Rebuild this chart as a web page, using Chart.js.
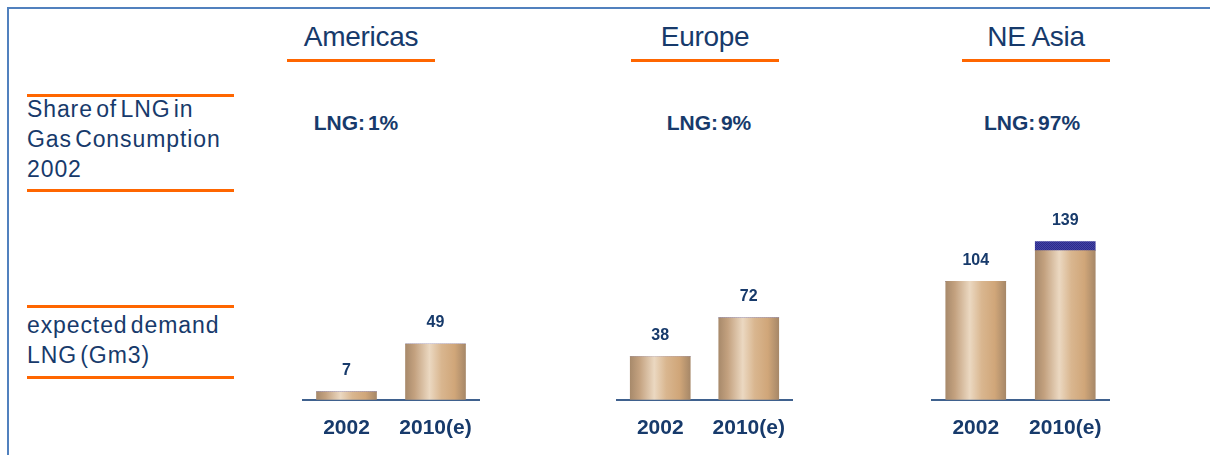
<!DOCTYPE html>
<html>
<head>
<meta charset="utf-8">
<script src="https://cdn.jsdelivr.net/npm/chart.js@4.4.1/dist/chart.umd.min.js"></script>
<style>
  html, body { margin: 0; padding: 0; background: #fff; }
  body { width: 1210px; height: 455px; position: relative; overflow: hidden;
         font-family: 'Liberation Sans', Arial, sans-serif; color: #173a6b; }
  .frame-top { position: absolute; left: 7px; top: 7px; width: 1203px; height: 2px; background: #5181be; }
  .frame-left { position: absolute; left: 7px; top: 7px; width: 2px; height: 448px; background: #5181be; }
  .rule { position: absolute; height: 3px; background: #ff6600; }
  .region { position: absolute; top: 21px; font-size: 28px; line-height: 32px; text-align: center; width: 200px; letter-spacing: -0.3px; }
  .share { position: absolute; top: 111px; font-size: 21px; font-weight: bold; line-height: 24px; text-align: center; width: 200px; word-spacing: -3px; }
  .side { position: absolute; left: 27px; font-size: 23px; line-height: 30px; white-space: nowrap; letter-spacing: 0.9px; word-spacing: -4px; }
  .chart-box { position: absolute; top: 202px; height: 255px; }
</style>
</head>
<body>
<div class="frame-top"></div>
<div class="frame-left"></div>

<div class="rule" style="left:27px;top:94px;width:207px"></div>
<div class="side" style="top:94px">Share of LNG in<br>Gas Consumption<br>2002</div>
<div class="rule" style="left:27px;top:189px;width:207px"></div>

<div class="rule" style="left:27px;top:305px;width:207px"></div>
<div class="side" style="top:310px">expected demand<br>LNG (Gm3)</div>
<div class="rule" style="left:27px;top:376px;width:207px"></div>

<div id="headers"></div>
<div id="charts"></div>

<script>
// data
const regions = ['Americas', 'Europe', 'NE Asia'];
const years = ['2002', '2010(e)'];
const lngShare = ['1%', '9%', '97%'];
const demand2002 = [7, 38, 104];
const demand2010 = [49, 72, 139];
// dark blue top slice of the NE Asia 2010 bar
const topSlice2010 = [0, 0, 8];
const yMax = 150;

// layout of each region block (left edge of plot, plot width, header centre)
const plotLeft = [302, 616, 931];
const plotWidth = [178, 177, 179];
const headerCenter = [361, 705, 1036];
const shareCenter = [356, 709, 1032];

const navy = '#173a6b';
const fontFamily = "'Liberation Sans', Arial, sans-serif";

// headers + shares
const headers = document.getElementById('headers');
regions.forEach((name, i) => {
  const h = document.createElement('div');
  h.className = 'region';
  h.style.left = (headerCenter[i] - 100) + 'px';
  h.textContent = name;
  headers.appendChild(h);

  const r = document.createElement('div');
  r.className = 'rule';
  r.style.left = (headerCenter[i] - 74) + 'px';
  r.style.top = '59px';
  r.style.width = '148px';
  headers.appendChild(r);

  const s = document.createElement('div');
  s.className = 'share';
  s.style.left = (shareCenter[i] - 100) + 'px';
  s.textContent = 'LNG: ' + lngShare[i];
  headers.appendChild(s);
});

/**
 * Tan cylinder-like gradient across a bar
 */
function tanGradient(context) {
  const chart = context.chart;
  if (!chart.chartArea) return '#d2ab80';
  const cx = chart.scales.x.getPixelForValue(context.dataIndex);
  const g = chart.ctx.createLinearGradient(cx - 30, 0, cx + 30, 0);
  g.addColorStop(0, '#a88a6b');
  g.addColorStop(0.15, '#c3a17f');
  g.addColorStop(0.4, '#ebd8c1');
  g.addColorStop(0.6, '#d9b68f');
  g.addColorStop(0.82, '#d0a679');
  g.addColorStop(1, '#a78868');
  return g;
}

/**
 * Small dotted pattern for the blue slice
 */
function bluePattern() {
  const c = document.createElement('canvas');
  c.width = 2; c.height = 2;
  const p = c.getContext('2d');
  p.fillStyle = '#2c2c8a';
  p.fillRect(0, 0, 2, 2);
  p.fillStyle = '#4444a6';
  p.fillRect(0, 0, 1, 1);
  p.fillRect(1, 1, 1, 1);
  return p.createPattern(c, 'repeat');
}

// value labels above each stack
const valueLabels = {
  id: 'valueLabels',
  afterDatasetsDraw(chart, args, opts) {
    const ctx = chart.ctx;
    ctx.save();
    ctx.font = 'bold 16px ' + fontFamily;
    ctx.fillStyle = navy;
    ctx.textAlign = 'center';
    ctx.textBaseline = 'middle';
    opts.totals.forEach((v, i) => {
      const x = chart.scales.x.getPixelForValue(i);
      const y = chart.scales.y.getPixelForValue(v) - 21;
      ctx.fillText(String(v), x, y);
    });
    ctx.restore();
  }
};

const chartsEl = document.getElementById('charts');
regions.forEach((name, i) => {
  const box = document.createElement('div');
  box.className = 'chart-box';
  box.style.left = plotLeft[i] + 'px';
  box.style.width = plotWidth[i] + 'px';
  const canvas = document.createElement('canvas');
  box.appendChild(canvas);
  chartsEl.appendChild(box);

  const totals = [demand2002[i], demand2010[i]];
  const slice = [0, topSlice2010[i]];
  const base = totals.map((v, k) => v - slice[k]);

  new Chart(canvas, {
    type: 'bar',
    data: {
      labels: years,
      datasets: [{
        data: base,
        backgroundColor: tanGradient,
        borderWidth: 0,
        barThickness: 60
      }, {
        data: slice,
        backgroundColor: bluePattern(),
        borderWidth: 0,
        barThickness: 60
      }]
    },
    options: {
      responsive: true,
      maintainAspectRatio: false,
      animation: false,
      layout: { padding: { top: 27, left: 0, right: 0, bottom: 0 } },
      plugins: {
        legend: { display: false },
        tooltip: { enabled: false },
        valueLabels: { totals: totals }
      },
      scales: {
        x: {
          stacked: true,
          grid: { display: false, drawTicks: false },
          border: { display: true, color: '#3f618e', width: 2 },
          ticks: {
            color: navy,
            padding: 16,
            font: { family: fontFamily, size: 21, weight: 'bold' }
          },
          afterFit(scale) {
            // keep the plot full width; labels fit inside the bar slots
            scale.paddingLeft = 0;
            scale.paddingRight = 0;
          }
        },
        y: {
          stacked: true,
          display: false,
          min: 0,
          max: yMax
        }
      }
    },
    plugins: [valueLabels]
  });
});
</script>
</body>
</html>
